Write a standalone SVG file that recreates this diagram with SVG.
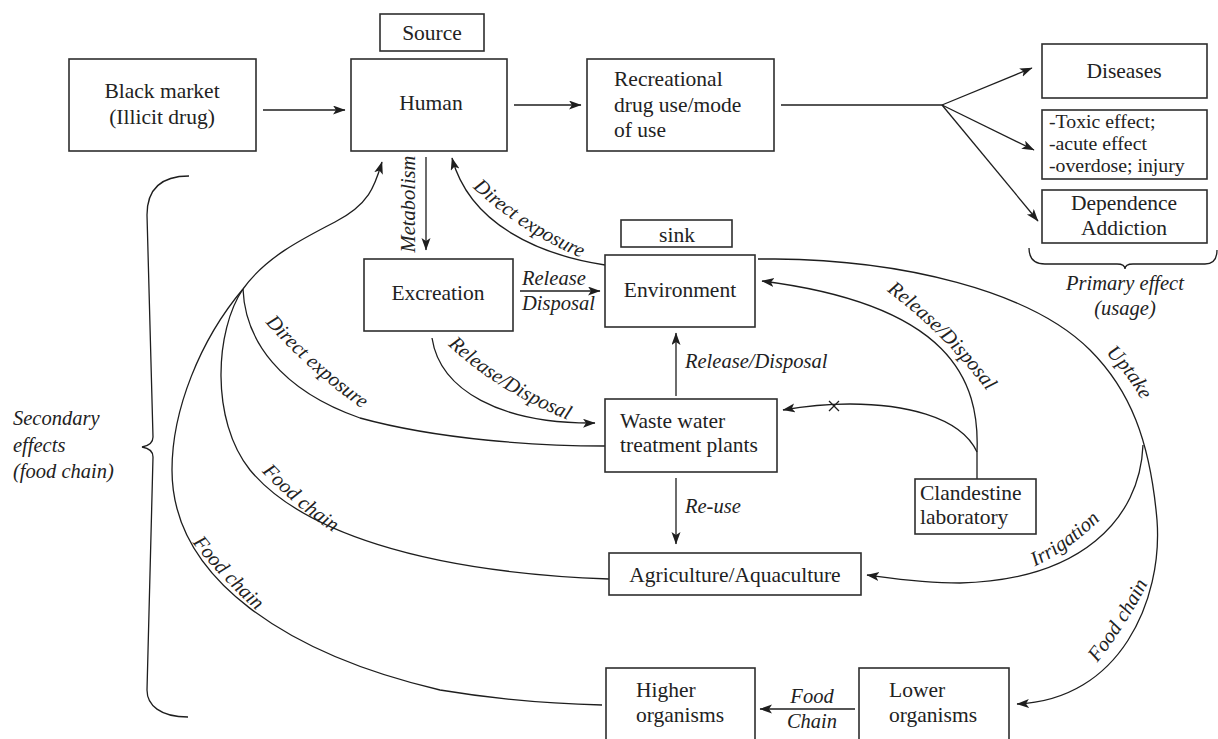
<svg xmlns="http://www.w3.org/2000/svg" width="1218" height="739" viewBox="0 0 1218 739">
<style>
.box{fill:#fff;stroke:#2e2e2e;stroke-width:1.6}
.ln{fill:none;stroke:#1e1e1e;stroke-width:1.3}
.t{font-family:"Liberation Serif","Times New Roman",serif;font-size:21.5px;fill:#222}
.s{font-size:19.8px}
.c{text-anchor:middle}
.i{font-family:"Liberation Serif","Times New Roman",serif;font-size:20.5px;font-style:italic;fill:#222}
</style>
<defs>
<marker id="ah" markerUnits="userSpaceOnUse" markerWidth="13" markerHeight="10" refX="12" refY="4.5" orient="auto">
<path d="M0,0 L12.5,4.5 L0,9 L3,4.5 Z" fill="#1e1e1e"/>
</marker>
<path id="lpA" d="M 472 187 Q 521 233, 582 258"/>
<path id="lpB" d="M 448 345 Q 495 390, 568 420"/>
<path id="lpC" d="M 264 321 Q 308 371, 364 410"/>
<path id="lpD" d="M 261 471 Q 294 506, 334 533"/>
<path id="lpE" d="M 192 542 Q 222 580, 257 611"/>
<path id="lpF" d="M 887 291 Q 944 334, 987 391"/>
<path id="lpG" d="M 1105 353 Q 1127 373, 1142 401"/>
<path id="lpH" d="M 1034 567 Q 1071 549, 1101 519"/>
<path id="lpI" d="M 1097 663 Q 1126 626, 1148 583"/>
</defs>
<rect width="1218" height="739" fill="#fff"/>

<g id="connectors">
<line class="ln" x1="263" y1="110" x2="345" y2="110" marker-end="url(#ah)"/>
<line class="ln" x1="514" y1="105" x2="581" y2="105" marker-end="url(#ah)"/>
<line class="ln" x1="781" y1="105" x2="942" y2="105"/>
<line class="ln" x1="942" y1="105" x2="1032" y2="68" marker-end="url(#ah)"/>
<line class="ln" x1="942" y1="105" x2="1034" y2="150" marker-end="url(#ah)"/>
<line class="ln" x1="942" y1="105" x2="1038" y2="221" marker-end="url(#ah)"/>
<line class="ln" x1="426" y1="157" x2="426" y2="250" marker-end="url(#ah)"/>
<line class="ln" x1="520" y1="291" x2="600" y2="291" marker-end="url(#ah)"/>
<line class="ln" x1="676" y1="396" x2="676" y2="333" marker-end="url(#ah)"/>
<line class="ln" x1="676" y1="478" x2="676" y2="544" marker-end="url(#ah)"/>
<line class="ln" x1="855" y1="709" x2="760" y2="709" marker-end="url(#ah)"/>
<path class="ln" d="M 605 265 C 540 255, 470 225, 452 158" marker-end="url(#ah)"/>
<path class="ln" d="M 432 338 C 440 390, 500 424, 595 423" marker-end="url(#ah)"/>
<path class="ln" d="M 243 289 C 265 258, 300 240, 335 222 S 375 185, 382 162" marker-end="url(#ah)"/>
<path class="ln" d="M 243 289 C 200 340, 172 410, 172 470 C 172 580, 290 655, 440 690 C 500 700, 560 704, 602 705"/>
<path class="ln" d="M 243 289 C 215 330, 210 420, 250 470 C 300 530, 420 572, 609 579"/>
<path class="ln" d="M 243 289 C 245 340, 280 390, 360 418 C 440 440, 540 446, 605 446"/>
<path class="ln" d="M 758 259 L 775 259 C 900 260, 1030 290, 1090 350 C 1130 390, 1150 440, 1157 520 C 1163 600, 1120 700, 1017 704" marker-end="url(#ah)"/>
<path class="ln" d="M 1143 445 C 1140 520, 1080 580, 960 583 C 920 583, 890 578, 867 575" marker-end="url(#ah)"/>
<path class="ln" d="M 977 479 L 977 452 C 980 380, 950 305, 762 281" marker-end="url(#ah)"/>
<path class="ln" d="M 977 452 C 960 415, 900 404, 850 404 C 820 404, 800 407, 783 410" marker-end="url(#ah)"/>
<path class="ln" d="M 829 401 L 839 411 M 839 401 L 829 411"/>
</g>

<g id="braces">
<path class="ln" d="M 189 176 C 160 176, 147 190, 147 215 L 153 437 C 153 443, 148 446, 142 447 C 148 448, 153 451, 153 457 L 147 690 C 147 705, 160 717, 188 717"/>
<path class="ln" d="M 1029 248 C 1029 259, 1034 264, 1045 264 L 1117 264 C 1122 264, 1125 266, 1125 269 C 1125 266, 1128 264, 1133 264 L 1205 264 C 1212 264, 1217 260, 1217 250"/>
</g>

<g id="labels">
<text class="i" transform="translate(415,204) rotate(-90)" text-anchor="middle">Metabolism</text>
<text class="i" x="522" y="285">Release</text>
<text class="i" x="522" y="310">Disposal</text>
<text class="i" x="685" y="368">Release/Disposal</text>
<text class="i" x="685" y="513">Re-use</text>
<text class="i c" x="812" y="703">Food</text>
<text class="i c" x="812" y="728">Chain</text>
<text class="i"><textPath href="#lpA" startOffset="50%" text-anchor="middle">Direct exposure</textPath></text>
<text class="i"><textPath href="#lpB" startOffset="50%" text-anchor="middle">Release/Disposal</textPath></text>
<text class="i"><textPath href="#lpC" startOffset="50%" text-anchor="middle">Direct exposure</textPath></text>
<text class="i"><textPath href="#lpD" startOffset="50%" text-anchor="middle">Food chain</textPath></text>
<text class="i"><textPath href="#lpE" startOffset="50%" text-anchor="middle">Food chain</textPath></text>
<text class="i"><textPath href="#lpF" startOffset="50%" text-anchor="middle">Release/Disposal</textPath></text>
<text class="i"><textPath href="#lpG" startOffset="50%" text-anchor="middle">Uptake</textPath></text>
<text class="i"><textPath href="#lpH" startOffset="50%" text-anchor="middle">Irrigation</textPath></text>
<text class="i"><textPath href="#lpI" startOffset="50%" text-anchor="middle">Food chain</textPath></text>
<text class="i c" x="1125" y="290">Primary effect</text>
<text class="i c" x="1125" y="315">(usage)</text>
<text class="i" x="13" y="425">Secondary</text>
<text class="i" x="13" y="452">effects</text>
<text class="i" x="13" y="478">(food chain)</text>
</g>

<g id="source"><rect class="box" x="380" y="14" width="104" height="37"/><text class="t c" x="432" y="40">Source</text></g>
<g id="black-market"><rect class="box" x="69" y="59" width="187" height="92"/><text class="t c" x="162" y="98">Black market</text><text class="t c" x="162" y="124">(Illicit drug)</text></g>
<g id="human"><rect class="box" x="351" y="59" width="156" height="92"/><text class="t c" x="431" y="110">Human</text></g>
<g id="recreational"><rect class="box" x="587" y="59" width="187" height="92"/><text class="t" x="614" y="86">Recreational</text><text class="t" x="614" y="112">drug use/mode</text><text class="t" x="614" y="137">of use</text></g>
<g id="diseases"><rect class="box" x="1042" y="44" width="165" height="54"/><text class="t c" x="1124" y="78">Diseases</text></g>
<g id="toxic"><rect class="box" x="1042" y="110" width="165" height="69"/><text class="t s" x="1049" y="128">-Toxic effect;</text><text class="t s" x="1049" y="150">-acute effect</text><text class="t s" x="1049" y="172">-overdose; injury</text></g>
<g id="dependence"><rect class="box" x="1042" y="190" width="165" height="53"/><text class="t c" x="1124" y="210">Dependence</text><text class="t c" x="1124" y="235">Addiction</text></g>
<g id="excreation"><rect class="box" x="364" y="259" width="149" height="72"/><text class="t c" x="438" y="300">Excreation</text></g>
<g id="sink"><rect class="box" x="621" y="220" width="111" height="27"/><text class="t c" x="677" y="242">sink</text></g>
<g id="environment"><rect class="box" x="605" y="255" width="150" height="72"/><text class="t c" x="680" y="297">Environment</text></g>
<g id="wwtp"><rect class="box" x="605" y="399" width="172" height="73"/><text class="t" x="620" y="428">Waste water</text><text class="t" x="620" y="452">treatment plants</text></g>
<g id="clandestine"><rect class="box" x="915" y="479" width="121" height="55"/><text class="t" x="920" y="500">Clandestine</text><text class="t" x="920" y="524">laboratory</text></g>
<g id="agriculture"><rect class="box" x="609" y="553" width="252" height="42"/><text class="t c" x="735" y="582">Agriculture/Aquaculture</text></g>
<g id="higher"><rect class="box" x="606" y="668" width="149" height="90"/><text class="t" x="636" y="697">Higher</text><text class="t" x="636" y="722">organisms</text></g>
<g id="lower"><rect class="box" x="859" y="668" width="150" height="90"/><text class="t" x="889" y="697">Lower</text><text class="t" x="889" y="722">organisms</text></g>
</svg>
